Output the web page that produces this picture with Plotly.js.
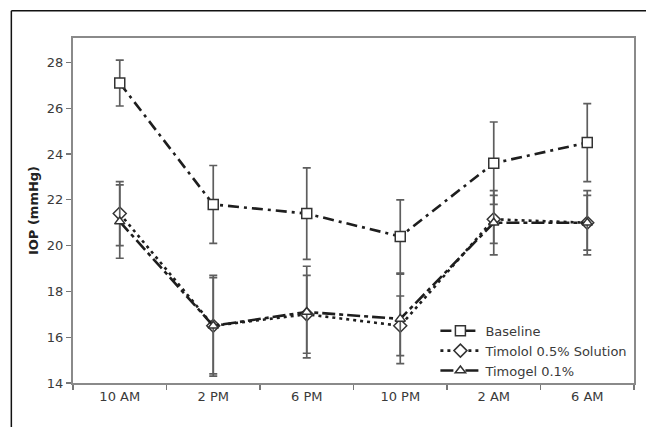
<!DOCTYPE html>
<html>
<head>
<meta charset="utf-8">
<script src="https://cdn.plot.ly/plotly-3.0.1.min.js"></script>
<style>
  html, body { margin: 0; padding: 0; background: #fff; }
  #chart { width: 646px; height: 427px; }
</style>
</head>
<body>
<div id="chart"></div>
<script>
// ---- data ----
var timepoints = ["10 AM", "2 PM", "6 PM", "10 PM", "2 AM", "6 AM"];

var seriesNames = ["Baseline", "Timolol 0.5% Solution", "Timogel 0.1%"];

var baselineIOP = [27.1, 21.8, 21.4, 20.4, 23.6, 24.5];
var baselineSD  = [1.0, 1.7, 2.0, 1.6, 1.8, 1.7];

var timololIOP = [21.4, 16.5, 17.0, 16.5, 21.15, 21.0];
var timololSD  = [1.4, 2.2, 1.7, 1.3, 1.05, 1.2];

var timogelIOP = [21.05, 16.5, 17.1, 16.8, 21.0, 21.0];
var timogelSD  = [1.6, 2.1, 2.0, 1.95, 1.4, 1.4];

var yTickVals = [14, 16, 18, 20, 22, 24, 26, 28];

// ---- styling ----
var FONT = "DejaVu Sans, Verdana, sans-serif";
var lineColor = "#1e1e1e";
var errColor = "#5e5e5e";
var textColor = "#3a3a3a";

function makeTrace(name, y, sd, symbol, dash, msize) {
  return {
    type: "scatter",
    mode: "lines+markers",
    name: name,
    x: timepoints,
    y: y,
    error_y: { type: "data", array: sd, visible: true, color: errColor, thickness: 1.7, width: 4 },
    line: { color: lineColor, width: 2.6, dash: dash },
    marker: { symbol: symbol, size: msize, color: "#ffffff", line: { color: "#333333", width: 1.5 } },
    cliponaxis: false
  };
}

var traces = [
  makeTrace(seriesNames[0], baselineIOP, baselineSD, "square", "11px,5px,3px,5px", 10),
  makeTrace(seriesNames[1], timololIOP, timololSD, "diamond", "3px,4px", 10),
  makeTrace(seriesNames[2], timogelIOP, timogelSD, "triangle-up", "13px,4px,4px,4px", 9)
];

var layout = {
  width: 646,
  height: 427,
  margin: { l: 73.3, r: 12, t: 38.3, b: 43.7 },
  paper_bgcolor: "#ffffff",
  plot_bgcolor: "#ffffff",
  font: { family: FONT, size: 13, color: textColor },
  showlegend: true,
  legend: {
    x: 0.646, xanchor: "left",
    y: -0.008, yanchor: "bottom",
    bgcolor: "rgba(255,255,255,0)",
    font: { family: FONT, size: 13, color: textColor },
    itemwidth: 40,
    tracegroupgap: 0
  },
  xaxis: {
    type: "category",
    range: [-0.5, 5.5],
    tickson: "boundaries",
    ticks: "outside",
    ticklen: 5,
    tickwidth: 1.2,
    tickcolor: "#777",
    showline: true,
    linecolor: "#8a8a8a",
    linewidth: 2,
    mirror: true,
    showgrid: false,
    zeroline: false,
    tickfont: { family: FONT, size: 13, color: textColor }
  },
  yaxis: {
    range: [14, 29.07],
    tickvals: yTickVals,
    ticks: "outside",
    ticklen: 5,
    tickwidth: 1.2,
    tickcolor: "#777",
    showline: true,
    linecolor: "#8a8a8a",
    linewidth: 2,
    mirror: true,
    showgrid: false,
    zeroline: false,
    tickfont: { family: FONT, size: 13, color: textColor },
    title: { text: "IOP (mmHg)", font: { family: FONT, size: 13, color: "#222", weight: "bold" }, standoff: 5 }
  },
  shapes: [
    { type: "line", xref: "paper", yref: "paper", x0: -0.1099, x1: -0.1099, y0: -0.2, y1: 1.0791, line: { color: "#111", width: 1.5 }, layer: "above" },
    { type: "line", xref: "paper", yref: "paper", x0: -0.1099, x1: 1.05, y0: 1.0791, y1: 1.0791, line: { color: "#111", width: 1.5 }, layer: "above" }
  ]
};

Plotly.newPlot("chart", traces, layout, { displayModeBar: false, staticPlot: true });
</script>
</body>
</html>
